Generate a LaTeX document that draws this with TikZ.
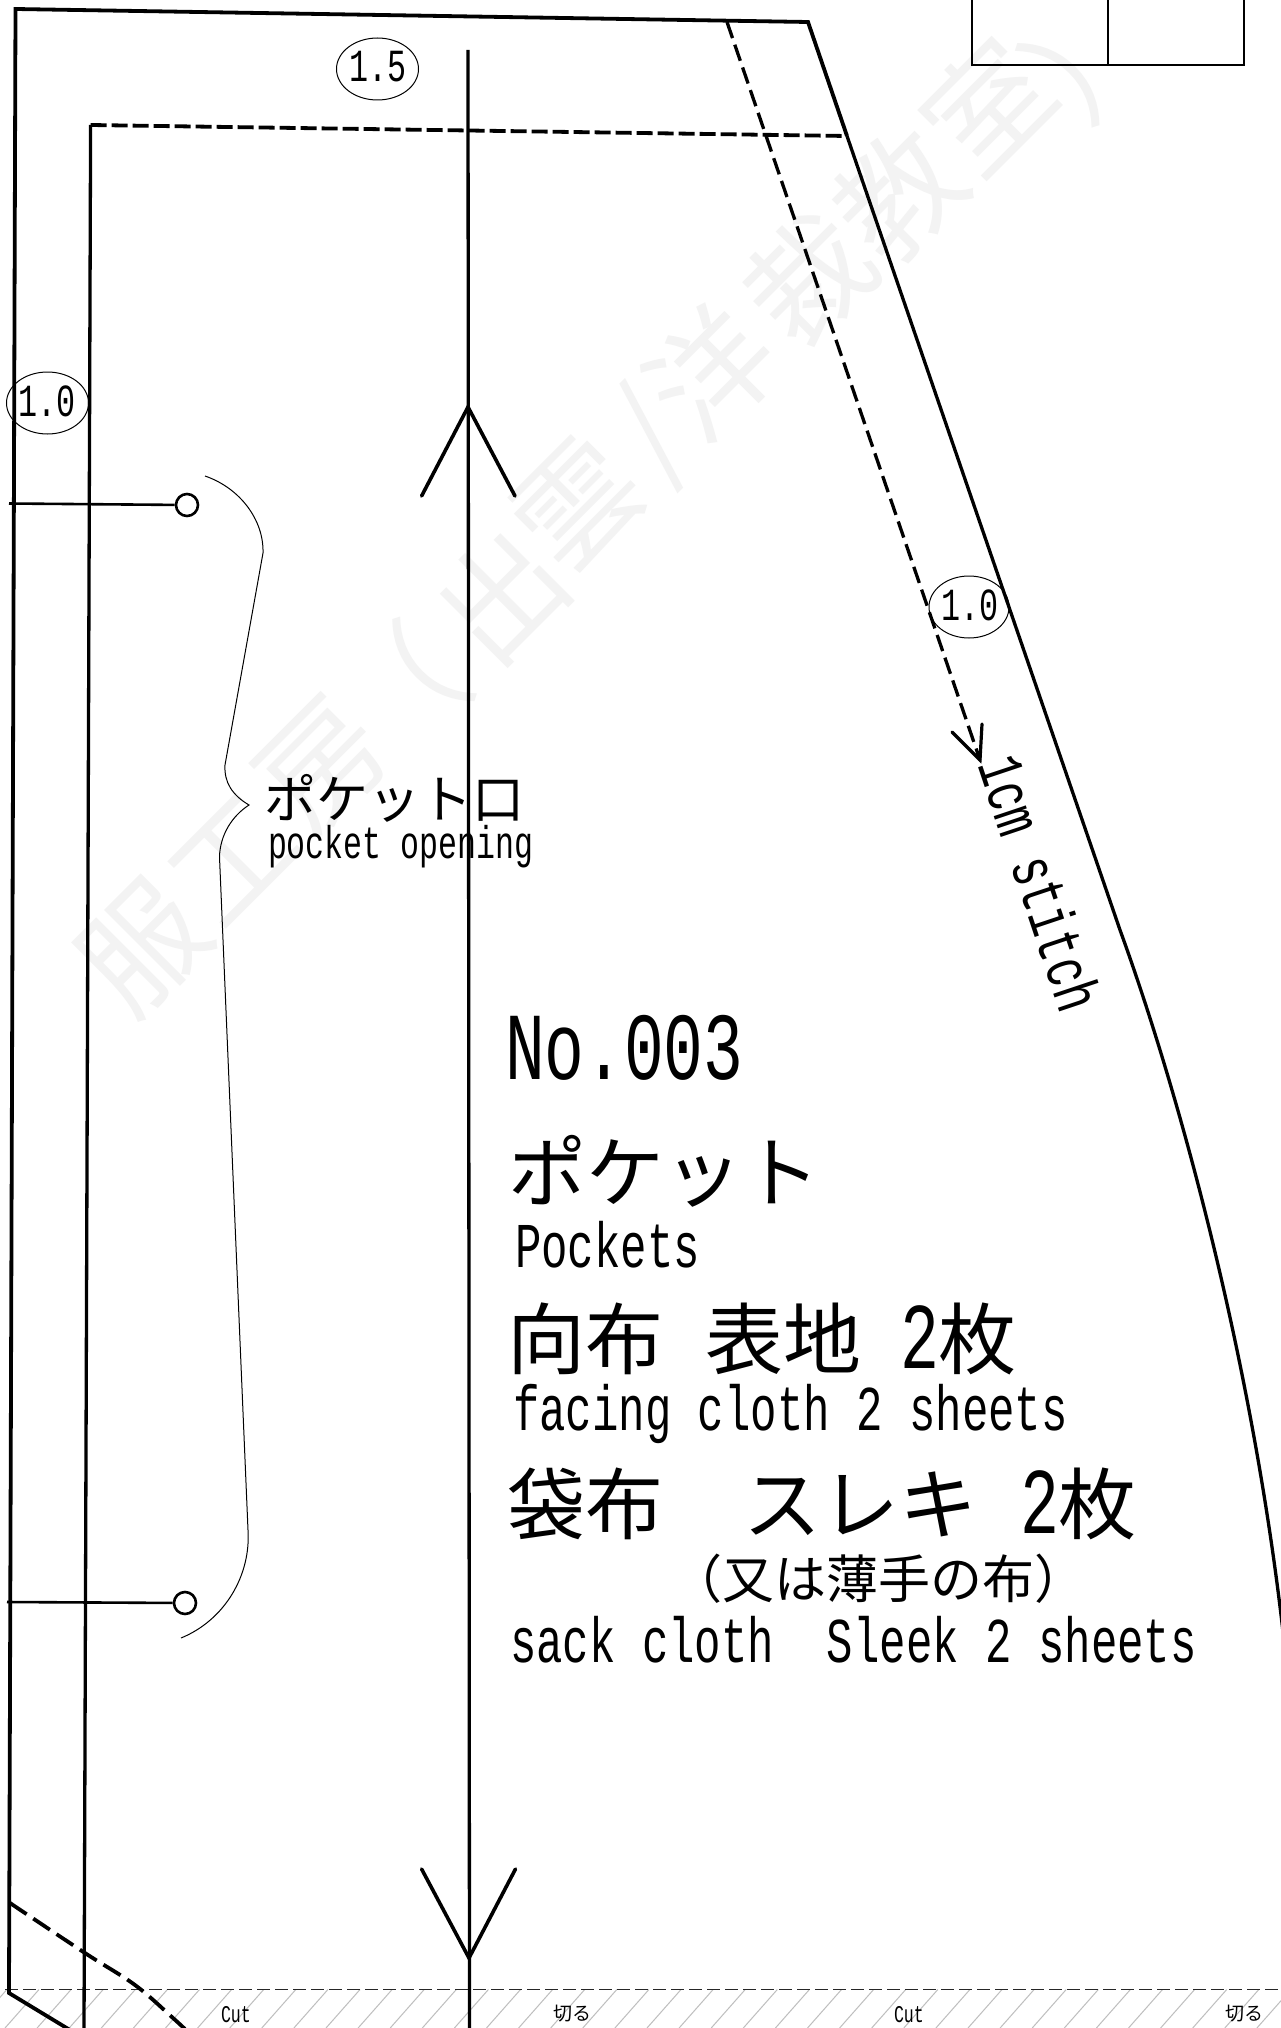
\documentclass[tikz,border=0pt]{standalone}
\usepackage{fontspec}
\newfontfamily\cjk{Noto Sans CJK JP}
\newfontfamily\latn[FakeStretch=0.69]{Liberation Mono}
\newcommand{\lt}[2]{{\fontsize{#1}{#1}\selectfont\latn #2}}
\newcommand{\jp}[2]{{\fontsize{#1}{#1}\selectfont\cjk #2}}
\definecolor{wm}{HTML}{F3F3F3}
\definecolor{hatch}{HTML}{BEBEBE}
\tikzset{
  lbl/.style={anchor=base west,inner sep=0pt,outer sep=0pt,text=black},
  ring/.style={draw=black,line width=1pt,ellipse,minimum width=#1,minimum height=62pt,inner sep=0pt},
  hole/.style={circle,draw=black,line width=2.6pt,minimum size=22pt,inner sep=0pt,fill=white},
  outline/.style={line width=3.8pt,line join=miter},
  seam/.style={line width=3.3pt},
  dashA/.style={line width=3.8pt,dash pattern=on 16pt off 5pt},
  dashB/.style={line width=3.3pt,dash pattern=on 17pt off 7pt},
  dashC/.style={line width=3.8pt,dash pattern=on 20pt off 8pt},
  barb/.style={line width=3.6pt,line cap=round},
  brace/.style={line width=1pt},
  wmark/.style={text=wm,inner sep=0pt,rotate=45}
}
\usetikzlibrary{shapes.geometric}
\begin{document}
\begin{tikzpicture}[x=1pt,y=-1pt]
\useasboundingbox (0,0) rectangle (1281,2028);
\clip (0,0) rectangle (1281,2028);
\fill[white] (0,0) rectangle (1281,2028);

% watermark
\node[wmark] (w1) at (143,947) {\jp{122}{服}};
\node[wmark] (w2) at (233,859) {\jp{122}{工}};
\node[wmark] (w3) at (322,765) {\jp{122}{房}};
\node[wmark] (w4) at (400,695) {\jp{122}{（}};
\node[wmark] (w5) at (502,596) {\jp{122}{出}};
\node[wmark] (w6) at (578,505) {\jp{122}{雲}};
\node[wmark] (w7) at (652,436) {\jp{122}{/}};
\node[wmark] (w8) at (711,373) {\jp{122}{洋}};
\node[wmark] (w9) at (809,279) {\jp{122}{裁}};
\node[wmark] (w10) at (899,195) {\jp{122}{教}};
\node[wmark] (w11) at (987,105) {\jp{122}{室}};
\node[wmark] (w12) at (1093,51) {\jp{122}{）}};

% hatching below the cut line
\foreach \k in {-1,...,40}{
  \pgfmathsetmacro{\tx}{39+32.1*\k}
  \draw[hatch,line width=1pt] (\tx,1989.5) -- (\tx-34,2028);
}
\coordinate (cutL) at (5,1989.5);
\coordinate (cutR) at (1281,1989.5);
\draw[black!85,line width=1.4pt,dash pattern=on 13pt off 5pt] (cutL) -- (cutR);

% table corner, top right
\coordinate (ta) at (972,-2);
\coordinate (tb) at (972,65);
\coordinate (tc) at (1244,65);
\coordinate (td) at (1244,-2);
\coordinate (te) at (1108,-2);
\coordinate (tf) at (1108,65);
\draw[line width=2.2pt] (ta) -- (tb) -- (tc) -- (td);
\draw[line width=2.2pt] (te) -- (tf);

% outline
\coordinate (oTL) at (15.5,9);
\coordinate (oTR) at (808,22);
\coordinate (oR) at (847,136);
\coordinate (oC) at (1120,930);
\coordinate (oE) at (1285,1650);
\coordinate (oBL) at (9,1993);
\coordinate (oBE) at (70,2030);
\draw[outline] (oR) -- (oTR) -- (oTL) -- (oBL) -- (oBE);
\draw[outline,line width=3.3pt] (oR) -- (oC) .. controls (1180,1095) and (1255,1370) .. (oE);

% inner seam
\coordinate (iTL) at (90.6,125);
\coordinate (iB) at (84,2030);
\draw[seam] (iTL) -- (iB);
\draw[dashA] (iTL) -- (oR);

% stitch line with arrow
\coordinate (sT) at (727,22);
\coordinate (sB) at (980,760);
\coordinate (sb1) at (952,732);
\coordinate (sb2) at (982,724);
\draw[dashB] (sT) -- (sB);
\draw[line width=3.2pt,line cap=round] (sb1) -- (sB) -- (sb2);

% curved dashed seam, lower left
\coordinate (cS) at (10,1903);
\coordinate (cE) at (188,2032);
\draw[dashC] plot[smooth,tension=.6] coordinates {(cS) (85,1953) (135,1985) (173,2018) (cE)};

% grain line
\coordinate (gT) at (468,50);
\coordinate (gB) at (469.5,2030);
\coordinate (uTip) at (468,407);
\coordinate (u1) at (421.6,496);
\coordinate (u2) at (515,496);
\coordinate (dTip) at (469,1958);
\coordinate (d1) at (421.6,1869);
\coordinate (d2) at (515.5,1869);
\draw[seam] (gT) -- (gB);
\draw[barb] (u1) -- (uTip) -- (u2);
\draw[barb] (d1) -- (dTip) -- (d2);

% pocket notches
\node[hole] (h1) at (187,505) {};
\node[hole] (h2) at (185,1603) {};
\coordinate (h1L) at (9,503.5);
\coordinate (h2L) at (7,1602);
\draw[line width=2.6pt] (h1L) -- (h1);
\draw[line width=2.6pt] (h2L) -- (h2);

% brace
\draw[brace] (205,476) .. controls (240,488) and (264,520) .. (263,553)
  -- (225,765) .. controls (224,782) and (232,795) .. (249,805)
  .. controls (232,816) and (220,835) .. (219.5,857)
  -- (248,1530) .. controls (251,1575) and (225,1620) .. (181,1638);

% seam allowance labels
\node[ring=82pt] (r15) at (377.5,69) {};
\node[ring=82pt] (r10a) at (47.5,403) {};
\node[ring=80pt] (r10b) at (969,607) {};
\node[lbl] (t15) at (349,82) {\lt{46}{1.5}};
\node[lbl] (t10a) at (18,416) {\lt{46}{1.0}};
\node[lbl] (t10b) at (941,620) {\lt{46}{1.0}};

% pocket opening
\node[lbl] (po) at (264,818) {\jp{52}{ポケット口}};
\node[lbl] (poe) at (268,858) {\lt{45.8}{pocket opening}};

% stitch
\node[lbl,rotate=-71.5] (st) at (977,764) {\lt{64}{1cm stitch}};

% title block
\node[lbl] (no) at (505,1079.5) {\lt{96}{No.003}};
\node[lbl] (pk) at (508,1201) {\jp{78}{ポケット}};
\node[lbl] (pke) at (515,1267) {\lt{63.8}{Pockets}};
\node[lbl] (f1) at (507,1368) {\jp{78}{向布}};
\node[lbl] (f2) at (705,1368) {\jp{78}{表地}};
\node[lbl] (f3) at (900,1368) {\lt{94}{2}\jp{78}{枚}};
\node[lbl] (fe) at (513,1430) {\lt{63.8}{facing cloth 2 sheets}};
\node[lbl] (s1) at (507,1533) {\jp{78}{袋布}};
\node[lbl] (s2) at (743,1533) {\jp{78}{スレキ}};
\node[lbl] (s3) at (1020,1533) {\lt{94}{2}\jp{78}{枚}};
\node[lbl] (sn) at (670,1598) {\jp{52}{（又は薄手の布）}};
\node[lbl] (se) at (510,1662) {\lt{63.8}{sack cloth~~Sleek 2 sheets}};

% cut labels
\node[lbl] (c1) at (221,2022) {\lt{24}{Cut}};
\node[lbl] (k1) at (553,2020) {\jp{19}{切る}};
\node[lbl] (c2) at (894,2022) {\lt{24}{Cut}};
\node[lbl] (k2) at (1225,2020) {\jp{19}{切る}};
\end{tikzpicture}
\end{document}
